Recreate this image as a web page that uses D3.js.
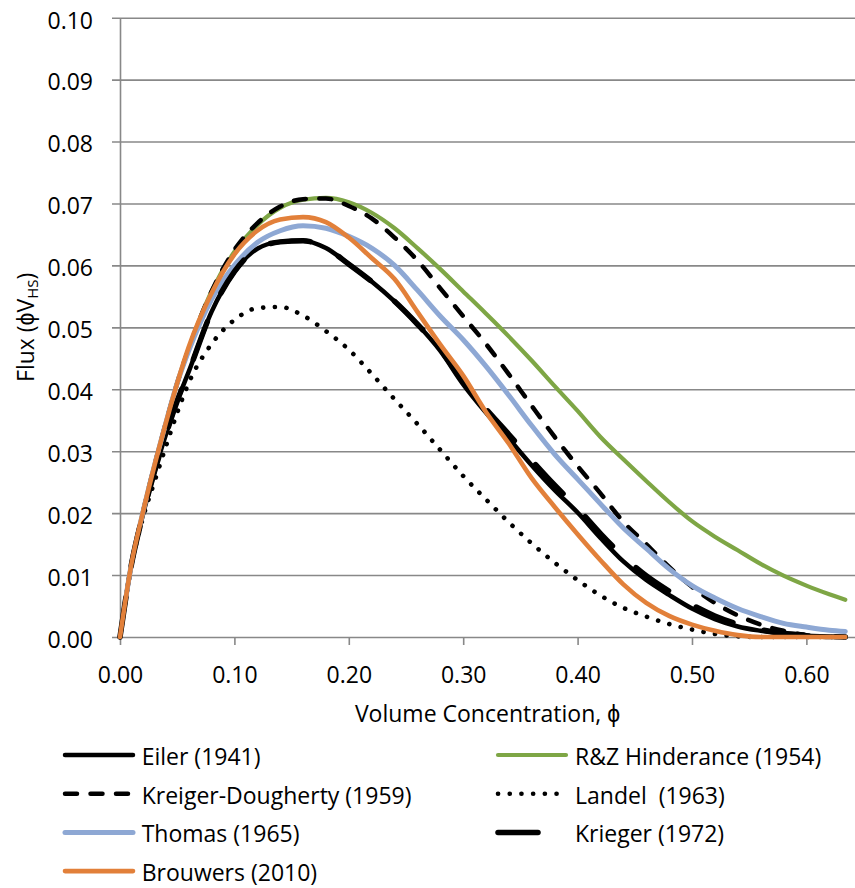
<!DOCTYPE html>
<html>
<head>
<meta charset="utf-8">
<script src="https://cdn.jsdelivr.net/npm/d3@7"></script>
<style>
body{margin:0;background:#fff;}
text{font-family:"Open Sans",sans-serif;fill:#000;}
</style>
</head>
<body>
<div id="chart"></div>
<script>
/* Flux vs volume concentration, hindered settling models */
var phi=[0,0.01,0.02,0.03,0.04,0.05,0.06,0.08,0.10,0.12,0.14,0.16,0.18,0.20,0.22,0.24,0.26,0.28,0.30,0.32,0.34,0.36,0.38,0.40,0.42,0.44,0.46,0.48,0.50,0.52,0.54,0.56,0.58,0.60,0.62,0.634];

var eiler=[0,0.0117,0.0197,0.0266,0.0326,0.0381,0.0428,0.0525,0.059,0.0627,0.0638,0.0640,0.0628,0.0602,0.0574,0.0542,0.0505,0.0462,0.0408,0.0362,0.0320,0.0277,0.0237,0.0201,0.0160,0.0122,0.0092,0.0068,0.0046,0.0029,0.0017,0.0010,0.0005,0.0002,0.0001,0];
var rz=[0,0.0118,0.0201,0.0276,0.0345,0.041,0.0465,0.0558,0.0622,0.0665,0.0693,0.0706,0.0709,0.0702,0.0685,0.0660,0.0628,0.0594,0.0558,0.0522,0.0485,0.0446,0.0405,0.0365,0.0323,0.0287,0.0252,0.0218,0.0187,0.0162,0.0140,0.0118,0.0099,0.0083,0.0069,0.0060];
var kd=[0,0.0118,0.0201,0.0276,0.0345,0.041,0.0465,0.0558,0.0625,0.0668,0.0695,0.0707,0.0708,0.0696,0.0676,0.0645,0.0608,0.0563,0.0518,0.0473,0.0424,0.0373,0.0323,0.0276,0.0232,0.0186,0.0150,0.0113,0.0081,0.0055,0.0035,0.0020,0.0010,0.0003,0,0];
var landel=[0,0.0115,0.0192,0.025,0.0307,0.0362,0.041,0.0473,0.0512,0.0531,0.0533,0.0519,0.0494,0.0464,0.0425,0.0384,0.0344,0.0302,0.026,0.0222,0.0185,0.0151,0.012,0.0092,0.0067,0.0047,0.0033,0.0021,0.0012,0.0005,0.0001,0,0,0,0,0];
var thomas=[0,0.0118,0.0201,0.0276,0.0345,0.041,0.0462,0.0545,0.0600,0.0637,0.0656,0.0664,0.0660,0.0647,0.0628,0.0600,0.0560,0.0518,0.0480,0.0437,0.0390,0.0341,0.0295,0.0255,0.0215,0.0176,0.0143,0.0110,0.0083,0.0063,0.0046,0.0033,0.0022,0.0016,0.0011,0.0009];
var krieger=[0,0.0117,0.0197,0.0266,0.0326,0.0381,0.0428,0.0525,0.059,0.0627,0.0638,0.064,0.0628,0.0602,0.0574,0.0542,0.0505,0.0464,0.0412,0.0368,0.0327,0.0285,0.0245,0.0208,0.0167,0.013,0.0099,0.0074,0.0052,0.0034,0.0021,0.0012,0.0006,0.0003,0.0001,0];
var brouwers=[0,0.0118,0.0201,0.0276,0.0345,0.041,0.0468,0.0555,0.0618,0.0656,0.0674,0.0678,0.0670,0.0645,0.0612,0.0578,0.0525,0.0472,0.0422,0.0363,0.0312,0.0256,0.0210,0.0166,0.0124,0.0085,0.0055,0.0034,0.0020,0.0010,0.0003,0,0,0,0,0];

var seriesNames=["Eiler (1941)","R&Z Hinderance (1954)","Kreiger-Dougherty (1959)","Landel  (1963)","Thomas (1965)","Krieger (1972)","Brouwers (2010)"];
var xTicks=[0,0.1,0.2,0.3,0.4,0.5,0.6];
var yTicks=[0,0.01,0.02,0.03,0.04,0.05,0.06,0.07,0.08,0.09,0.10];

// series table (draw order = excel series order)
var series=[
 {name:seriesNames[0],values:eiler,color:"#000",width:4.5,dash:null},
 {name:seriesNames[1],values:rz,color:"#7EA645",width:4.2,dash:null},
 {name:seriesNames[2],values:kd,color:"#000",width:4.5,dash:"12,13.5"},
 {name:seriesNames[3],values:landel,color:"#000",width:4.6,dash:"0.1,11.6"},
 {name:seriesNames[4],values:thomas,color:"#8EA8D4",width:5,dash:null},
 {name:seriesNames[5],values:krieger,color:"#000",width:5.5,dash:"40,32"},
 {name:seriesNames[6],values:brouwers,color:"#E2803A",width:4.6,dash:null}
];

var W=855,H=888;
var svg=d3.select("#chart").append("svg").attr("width",W).attr("height",H);

var x=d3.scaleLinear().domain([0,0.6425]).range([120,855]);
var y=d3.scaleLinear().domain([0,0.10]).range([637,17.7]);

// horizontal grid
var grid=svg.append("g").attr("transform","translate(112,0)")
 .call(d3.axisLeft(y).tickValues(yTicks).tickSize(-(W-112)).tickFormat(""));
grid.select(".domain").remove();
grid.selectAll("line").attr("stroke","#888").attr("stroke-width",1.6);

// y axis
var yAx=svg.append("g").attr("transform","translate(120,0)")
 .call(d3.axisLeft(y).tickValues(yTicks).tickSize(0).tickSizeOuter(0).tickPadding(27).tickFormat(d3.format(".2f")));
yAx.select(".domain").attr("stroke","#888").attr("stroke-width",1.6);
yAx.selectAll("text").attr("font-size",23).attr("dy","0.45em").attr("font-family","Open Sans");

// x axis
var xAx=svg.append("g").attr("transform","translate(0,637)")
 .call(d3.axisBottom(x).tickValues(xTicks).tickSize(8).tickSizeOuter(0).tickPadding(21.7).tickFormat(d3.format(".2f")));
xAx.select(".domain").remove();
xAx.selectAll("line").attr("stroke","#888").attr("stroke-width",1.6);
xAx.selectAll("text").attr("font-size",23).attr("font-family","Open Sans");

// axis titles
svg.append("text").attr("x",(x.range()[0]+x.range()[1])/2).attr("y",722)
 .attr("text-anchor","middle").attr("font-size",23)
 .text("Volume Concentration, \u03D5");

var yt=svg.append("text").attr("transform","translate(33.5,"+((y.range()[0]+y.range()[1])/2)+")rotate(-90)")
 .attr("text-anchor","middle").attr("font-size",23);
yt.append("tspan").text("Flux (\u03D5V");
yt.append("tspan").attr("font-size",15).attr("dy",4).text("HS");
yt.append("tspan").attr("dy",-4).text(")");

// curves
var line=d3.line()
 .x(function(d,i){return x(phi[i]);})
 .y(function(d){return y(d);})
 .curve(d3.curveMonotoneX);

svg.append("g").selectAll("path").data(series).enter().append("path")
 .attr("d",function(s){return line(s.values);})
 .attr("fill","none")
 .attr("stroke",function(s){return s.color;})
 .attr("stroke-width",function(s){return s.width;})
 .attr("stroke-dasharray",function(s){return s.dash;})
 .attr("stroke-linecap","round")
 .attr("stroke-linejoin","round");

// legend, two columns filled row by row
var colX=[65,498],rowY=755,rowStep=38.7;
var leg=svg.append("g").selectAll("g").data(series).enter().append("g")
 .attr("transform",function(s,i){return "translate("+colX[i%2]+","+(rowY+Math.floor(i/2)*rowStep)+")";});
leg.append("line").attr("x1",0).attr("x2",68).attr("y1",0).attr("y2",0)
 .attr("stroke",function(s){return s.color;})
 .attr("stroke-width",function(s){return s.width;})
 .attr("stroke-dasharray",function(s){return s.dash;})
 .attr("stroke-linecap","round");
leg.append("text").attr("x",function(s,i){return i%2?77:76.7;}).attr("y",10)
 .attr("font-size",23).style("white-space","pre").text(function(s){return s.name;});
</script>
</body>
</html>
